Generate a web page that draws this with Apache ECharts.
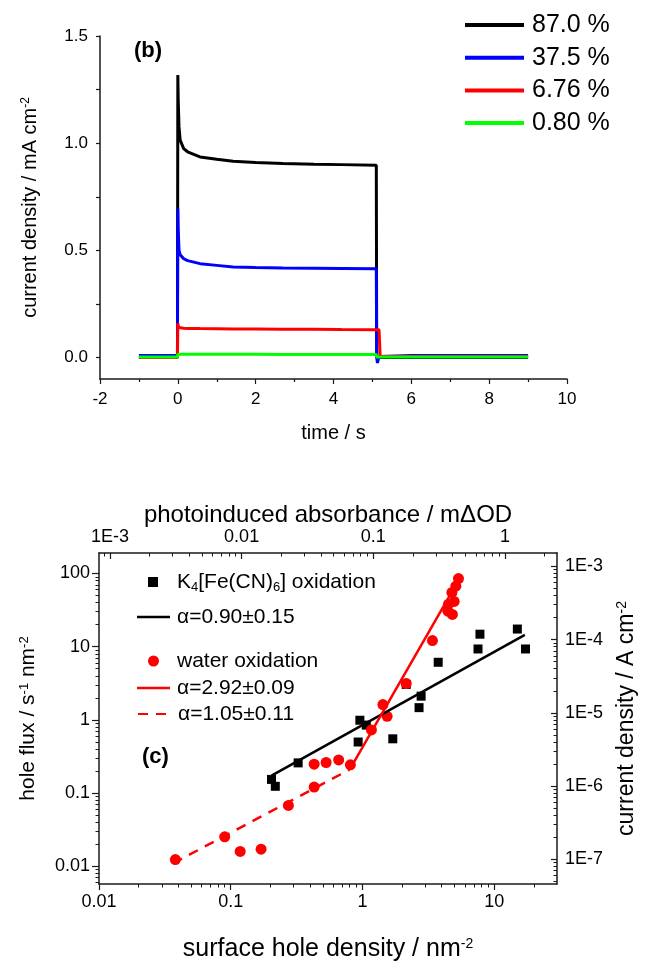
<!DOCTYPE html>
<html><head><meta charset="utf-8">
<script src="https://cdn.jsdelivr.net/npm/echarts@6/dist/echarts.min.js"></script>
<style>html,body{margin:0;padding:0;background:#fff}#main{width:646px;height:963px}</style>
</head><body><div id="main"></div>
<script>
// ---------- Panel (b): transient photocurrents ----------
const timeS   = [-1, -0.01, 0, 0.01, 0.03, 0.06, 0.15, 0.25, 0.57, 1, 1.42, 2, 2.7, 3.5, 4.2, 5.1, 5.11, 5.13, 5.17, 5.2, 6, 9];
const j870    = [0, 0, 1.318, 1.2, 1.076, 1.014, 0.975, 0.96, 0.936, 0.925, 0.916, 0.91, 0.905, 0.902, 0.9, 0.897, 0, 0, 0, 0, 0, 0];
const j375    = [0.01, 0.01, 0.695, 0.6, 0.5, 0.48, 0.461, 0.452, 0.438, 0.43, 0.422, 0.42, 0.418, 0.417, 0.416, 0.414, 0.0, -0.025, 0.005, 0.01, 0.01, 0.01];
const j676    = [0, 0, 0.16, 0.15, 0.14, 0.138, 0.137, 0.136, 0.135, 0.134, 0.133, 0.133, 0.132, 0.132, 0.131, 0.13, 0.13, 0.13, 0.13, 0.005, 0.005, 0.005];
const j080    = [0.003, 0.003, 0.015, 0.016, 0.016, 0.016, 0.015, 0.015, 0.015, 0.015, 0.015, 0.015, 0.014, 0.014, 0.014, 0.014, 0.003, 0.003, 0.003, 0.003, 0.003, 0.003];
const namesB  = ['87.0 %', '37.5 %', '6.76 %', '0.80 %'];
const colorsB = ['#000000', '#0000ff', '#ff0000', '#00ff00'];
const yLabelsB = [0, 0.5, 1, 1.5];
const yTicksB  = [0, 0.25, 0.5, 0.75, 1, 1.25, 1.5];

// ---------- Panel (c): hole flux vs surface hole density ----------
const ferroX = [0.204, 0.218, 0.325, 0.928, 0.956, 1.07, 1.70, 2.15, 2.69, 2.79, 3.76, 7.54, 7.80, 15.0, 17.3];
const ferroY = [0.154, 0.124, 0.259, 0.499, 0.99, 0.85, 0.552, 3.05, 1.47, 2.11, 6.12, 9.3, 14.8, 17.4, 9.3];
const waterX = [0.038, 0.090, 0.118, 0.170, 0.274, 0.43, 0.43, 0.53, 0.66, 0.81, 1.17, 1.43, 1.54, 2.15, 3.40, 4.45, 4.50, 4.82, 4.97, 4.78, 5.12, 5.36];
const waterY = [0.0124, 0.0253, 0.016, 0.0172, 0.068, 0.121, 0.249, 0.262, 0.284, 0.244, 0.73, 1.62, 1.12, 3.14, 12.1, 30.5, 38, 27.5, 41.5, 55, 67, 85];
const fitFerroX = [0.204, 17.1], fitFerroY = [0.174, 14.5];
const fitHighX  = [0.80, 5.2],   fitHighY  = [0.21, 73];
const fitLowX   = [0.0365, 0.80], fitLowY  = [0.011, 0.21];
const namesC = ['K4[Fe(CN)6] oxidation', 'α=0.90±0.15', 'water oxidation', 'α=2.92±0.09', 'α=1.05±0.11'];

// tick values and labels
const xBotTicks = [0.01, 0.1, 1, 10],            xBotText = ['0.01', '0.1', '1', '10'];
const xTopTicks = [0.001, 0.01, 0.1, 1],         xTopText = ['1E-3', '0.01', '0.1', '1'];
const yLeftTicks = [0.01, 0.1, 1, 10, 100],      yLeftText = ['0.01', '0.1', '1', '10', '100'];
const yRightTicks = [1e-7, 1e-6, 1e-5, 1e-4, 1e-3], yRightText = ['1E-7', '1E-6', '1E-5', '1E-4', '1E-3'];

// axis ranges of panel (c)
const xMin = 0.01, xMax = 30, topFactor = 1 / 12.1;
const yMin = 0.00575, yMax = 190, rightFactor = 8.0e-6;

const FONT = '"Liberation Sans", Arial, Helvetica, sans-serif';
const AX = '#1a1a1a';
const zip = (a, b) => a.map((v, i) => [v, b[i]]);
const lg = Math.log10;

function logFmt(ticks, texts) {
  const exps = ticks.map(t => Math.round(lg(t)));
  return function (v) {
    const l = lg(v), e = Math.round(l);
    if (Math.abs(l - e) > 0.01) return '';
    const i = exps.indexOf(e);
    return i >= 0 ? texts[i] : '';
  };
}
function logAxis(grid, pos, lo, hi, ticks, texts, inside, majLen, margin) {
  return {
    type: 'log', gridIndex: grid, position: pos, min: lo, max: hi,
    axisLine: { onZero: false, lineStyle: { color: AX, width: 1.5 } },
    axisTick: { show: true, inside: inside, length: majLen, customValues: ticks, lineStyle: { color: AX, width: 1.2 } },
    minorTick: { show: true, splitNumber: 9, length: 3.5, lineStyle: { color: AX, width: 1 } },
    axisLabel: { fontFamily: FONT, fontSize: 18, color: '#000', margin: margin, customValues: ticks, formatter: logFmt(ticks, texts) },
    splitLine: { show: false }
  };
}
const supRich = (fs) => ({ sup: { fontSize: fs, verticalAlign: 'top', fontFamily: FONT, color: '#000' } });

const chart = echarts.init(document.getElementById('main'), null, { renderer: 'canvas' });

const legTxt = (pad) => ({ fontFamily: FONT, fontSize: 21, lineHeight: 24, color: '#000', padding: [0, 0, 0, pad] });

const xBot = logAxis(1, 'bottom', xMin, xMax, xBotTicks, xBotText, false, 6, 9);
Object.assign(xBot, { name: 'surface hole density / nm{sup|-2}', nameLocation: 'middle', nameGap: 53,
  nameTextStyle: { fontFamily: FONT, fontSize: 25, color: '#000', rich: supRich(14) } });
const xTop = logAxis(1, 'top', xMin * topFactor, xMax * topFactor, xTopTicks, xTopText, true, 6, 7);
Object.assign(xTop, { name: 'photoinduced absorbance / mΔOD', nameLocation: 'middle', nameGap: 22,
  nameTextStyle: { fontFamily: FONT, fontSize: 24, color: '#000' } });
const yLeft = logAxis(1, 'left', yMin, yMax, yLeftTicks, yLeftText, false, 7, 9);
Object.assign(yLeft, { name: 'hole flux / s{sup|-1} nm{sup|-2}', nameLocation: 'middle', nameGap: 60,
  nameTextStyle: { fontFamily: FONT, fontSize: 21, color: '#000', rich: supRich(13) } });
const yRight = logAxis(1, 'right', yMin * rightFactor, yMax * rightFactor, yRightTicks, yRightText, true, 6, 8);
Object.assign(yRight, { name: 'current density / A cm{sup|-2}', nameLocation: 'middle', nameGap: 58,
  nameTextStyle: { fontFamily: FONT, fontSize: 23, color: '#000', rich: supRich(14) } });

const option = {
  animation: false,
  textStyle: { fontFamily: FONT, color: '#000' },
  title: [
    { text: '(b)', left: 129, top: 35, textStyle: { fontFamily: FONT, fontSize: 22, fontWeight: 'bold', color: '#000' } },
    { text: '(c)', left: 137, top: 741, textStyle: { fontFamily: FONT, fontSize: 22, fontWeight: 'bold', color: '#000' } }
  ],
  grid: [
    { left: 100, top: 36, width: 467, height: 343 },
    { left: 99, top: 553, width: 460, height: 338 }
  ],
  legend: [
    { data: namesB.map(n => ({ name: n, icon: 'rect' })), orient: 'vertical', left: 460, top: 7,
      itemWidth: 59, itemHeight: 4, itemGap: 6.7,
      textStyle: { fontFamily: FONT, fontSize: 25, lineHeight: 26, color: '#000', padding: [0, 0, 0, 3] } },
    { data: [{ name: namesC[0], icon: 'rect' }], left: 143, top: 565, itemWidth: 10, itemHeight: 10,
      formatter: () => 'K{sub|4}[Fe(CN){sub|6}] oxidation',
      textStyle: Object.assign(legTxt(14), { rich: { sub: { fontSize: 13, verticalAlign: 'bottom', fontFamily: FONT, color: '#000' } } }) },
    { data: [{ name: namesC[1], icon: 'rect' }], left: 132, top: 600, itemWidth: 33, itemHeight: 2.5, textStyle: legTxt(2) },
    { data: [{ name: namesC[2], icon: 'circle' }], left: 143, top: 644, itemWidth: 11, itemHeight: 11, textStyle: legTxt(13) },
    { data: [{ name: namesC[3], icon: 'rect' }], left: 132, top: 671, itemWidth: 33, itemHeight: 2.5, textStyle: legTxt(2) },
    { data: [namesC[4]], left: 132, top: 697, itemWidth: 33, itemHeight: 12, itemStyle: { opacity: 0 }, textStyle: legTxt(2) }
  ],
  xAxis: [
    { // 0: panel b time
      type: 'value', gridIndex: 0, min: -2, max: 10, interval: 2,
      name: 'time / s', nameLocation: 'middle', nameGap: 44,
      nameTextStyle: { fontFamily: FONT, fontSize: 20, color: '#000' },
      axisLine: { onZero: false, lineStyle: { color: AX, width: 1.5 } },
      axisTick: { length: 5, lineStyle: { color: AX, width: 1.2 } },
      minorTick: { show: true, splitNumber: 2, length: 3, lineStyle: { color: AX, width: 1.2 } },
      axisLabel: { fontFamily: FONT, fontSize: 17, color: '#000', margin: 12 },
      splitLine: { show: false }
    },
    xBot, xTop
  ],
  yAxis: [
    { // 0: panel b current density
      type: 'value', gridIndex: 0, min: -0.1, max: 1.5,
      name: 'current density / mA cm{sup|-2}', nameLocation: 'middle', nameGap: 60,
      nameTextStyle: { fontFamily: FONT, fontSize: 20, color: '#000', rich: supRich(12) },
      axisLine: { onZero: false, lineStyle: { color: AX, width: 1.5 } },
      axisTick: { length: 4, customValues: yTicksB, lineStyle: { color: AX, width: 1.2 } },
      axisLabel: { fontFamily: FONT, fontSize: 17, color: '#000', margin: 12, customValues: yLabelsB,
        formatter: v => v.toFixed(1) },
      splitLine: { show: false }
    },
    yLeft, yRight
  ],
  series: [
    ...[j870, j375, j676, j080].map((arr, i) => ({
      name: namesB[i], type: 'line', xAxisIndex: 0, yAxisIndex: 0,
      data: zip(timeS, arr), symbol: 'none', showSymbol: false,
      lineStyle: { color: colorsB[i], width: 3 }, itemStyle: { color: colorsB[i] }
    })),
    { name: namesC[0], type: 'scatter', xAxisIndex: 1, yAxisIndex: 1, data: zip(ferroX, ferroY),
      symbol: 'rect', symbolSize: 9, itemStyle: { color: '#000', opacity: 1 } },
    { name: namesC[1], type: 'line', xAxisIndex: 1, yAxisIndex: 1, data: zip(fitFerroX, fitFerroY),
      symbol: 'none', lineStyle: { color: '#000', width: 2.5 }, itemStyle: { color: '#000' } },
    { name: namesC[2], type: 'scatter', xAxisIndex: 1, yAxisIndex: 1, data: zip(waterX, waterY),
      symbol: 'circle', symbolSize: 11, itemStyle: { color: '#ff0000', opacity: 1 } },
    { name: namesC[3], type: 'line', xAxisIndex: 1, yAxisIndex: 1, data: zip(fitHighX, fitHighY),
      symbol: 'none', lineStyle: { color: '#ff0000', width: 2.5 }, itemStyle: { color: '#ff0000' } },
    { name: namesC[4], type: 'line', xAxisIndex: 1, yAxisIndex: 1, data: zip(fitLowX, fitLowY),
      symbol: 'none', lineStyle: { color: '#ff0000', width: 2.5, type: [10, 8] }, itemStyle: { color: '#ff0000' } }
  ]
};
chart.setOption(option);
</script>
</body></html>
